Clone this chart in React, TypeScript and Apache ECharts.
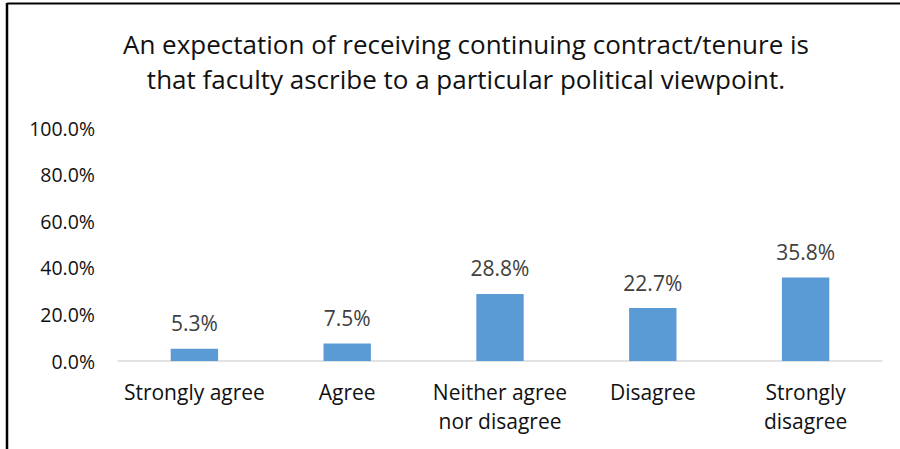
import React, { useEffect, useRef } from "react";
import * as echarts from "echarts";

const titleText = "An expectation of receiving continuing contract/tenure is\nthat faculty ascribe to a particular political viewpoint.";
const categories = ["Strongly agree", "Agree", "Neither agree\nnor disagree", "Disagree", "Strongly\ndisagree"];
const values = [5.3, 7.5, 28.8, 22.7, 35.8];

const FONT = "'Open Sans', Lato, sans-serif";

export default function App() {
  const ref = useRef<HTMLDivElement>(null);
  useEffect(() => {
    document.body.style.margin = "0";
    const chart = echarts.init(ref.current!, undefined, { renderer: "svg" });
    chart.setOption({
      animation: false,
      backgroundColor: "#ffffff",
      title: {
        text: titleText,
        left: 461,
        top: 21,
        textAlign: "center",
        textStyle: { fontFamily: FONT, fontSize: 26, fontWeight: "normal", color: "#111", lineHeight: 35 },
      },
      grid: { left: 118, right: 18, top: 128, bottom: 88, containLabel: false },
      xAxis: {
        type: "category",
        data: categories,
        axisLine: { lineStyle: { color: "#D9D9D9", width: 1.5 } },
        axisTick: { show: false },
        axisLabel: { fontFamily: FONT, fontSize: 21, color: "#111", margin: 16, lineHeight: 29, interval: 0 },
      },
      yAxis: {
        type: "value",
        min: 0,
        max: 100,
        interval: 20,
        splitLine: { show: false },
        axisLine: { show: false },
        axisTick: { show: false },
        axisLabel: { fontFamily: FONT, fontSize: 19.5, color: "#111", margin: 23, formatter: (v: number) => v.toFixed(1) + "%" },
      },
      series: [
        {
          type: "bar",
          data: values,
          barWidth: "31%",
          itemStyle: { color: "#5B9BD5" },
          label: {
            show: true,
            position: "top",
            distance: 15,
            fontFamily: FONT,
            fontSize: 21,
            color: "#404040",
            formatter: (p: any) => p.value.toFixed(1) + "%",
          },
        },
      ],
      graphic: [
        { type: "line", shape: { x1: 7, y1: 3.5, x2: 900, y2: 3.5 }, style: { stroke: "#000", lineWidth: 2 } },
        { type: "line", shape: { x1: 7, y1: 3, x2: 7, y2: 449 }, style: { stroke: "#000", lineWidth: 2.5 } },
      ],
    });
    return () => chart.dispose();
  }, []);
  return <div ref={ref} style={{ width: 900, height: 449 }} />;
}
